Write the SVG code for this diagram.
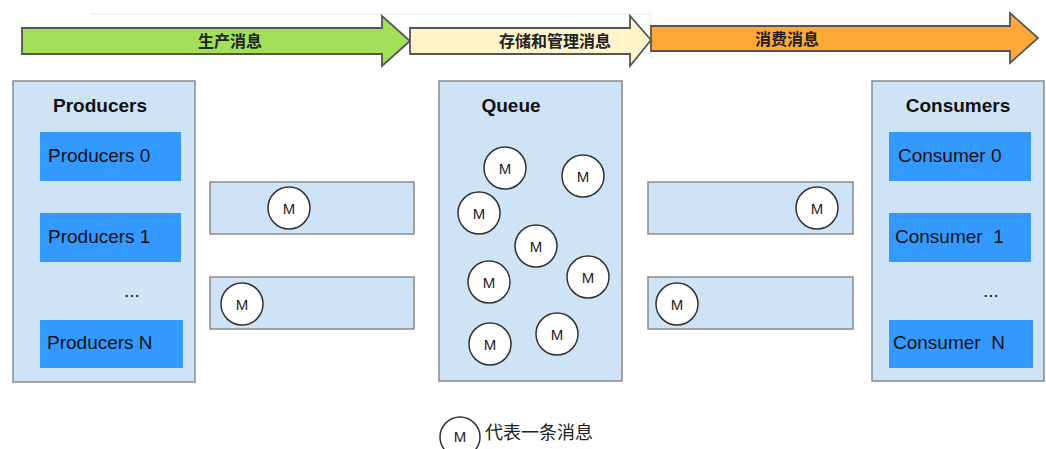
<svg xmlns="http://www.w3.org/2000/svg" width="1046" height="449" viewBox="0 0 1046 449">
<defs>
<style>
.panel{fill:#cfe3f7;stroke:#8a8a8a;stroke-width:1.5}
.chan{fill:#cfe3f7;stroke:#8a8a8a;stroke-width:1.5}
.item{fill:#3399ff}
.msg circle{fill:#fff;stroke:#333;stroke-width:1.5}
.msg text{font-family:"Liberation Sans",Arial,sans-serif;font-size:15px;fill:#222;text-anchor:middle}
.title{font-family:"Liberation Sans",Arial,sans-serif;font-size:19px;font-weight:bold;fill:#111;text-anchor:middle}
.lbl{font-family:"Liberation Sans",Arial,sans-serif;font-size:19px;fill:#111;white-space:pre}
.stage path{stroke:#555;stroke-width:1.8;stroke-linejoin:miter}
.stage text{font-family:"Liberation Sans","Noto Sans CJK SC",sans-serif;font-size:16px;font-weight:bold;fill:#222;text-anchor:middle}
.cjk{font-family:"Liberation Sans","Noto Sans CJK SC",sans-serif;font-size:18px;fill:#222}
</style>
</defs>
<rect width="1046" height="449" fill="#fff"/>
<path d="M90,14 H651 V58" fill="none" stroke="#e4e4e4" stroke-width="1"/>

<g id="stage-produce" class="stage">
<path d="M22,28 H382 V16 L410,41 L382,66 V54 H22 Z" fill="#a2e05a"/>
<text x="230" y="47">生产消息</text>
</g>
<g id="stage-store" class="stage">
<path d="M410,28 H630 V16 L651,40 L630,66 V54 H410 Z" fill="#fff4c9"/>
<text x="555" y="47">存储和管理消息</text>
</g>
<g id="stage-consume" class="stage">
<path d="M651,26 H1010 V13 L1038,38 L1010,63 V51 H651 Z" fill="#ffa836"/>
<text x="787" y="45">消费消息</text>
</g>

<g id="producers">
<rect class="panel" x="13" y="81" width="182" height="301"/>
<text class="title" x="100" y="112">Producers</text>
<rect class="item" x="40" y="132" width="141" height="49"/>
<text class="lbl" x="48" y="162">Producers 0</text>
<rect class="item" x="40" y="213" width="141" height="49"/>
<text class="lbl" x="48" y="243">Producers 1</text>
<text class="lbl" x="124" y="297">...</text>
<rect class="item" x="40" y="320" width="143" height="48"/>
<text class="lbl" x="47" y="349">Producers N</text>
</g>

<g id="channel-in-1">
<rect class="chan" x="210" y="182" width="204" height="52"/>
<g class="msg"><circle cx="289" cy="208" r="21"/><text x="289" y="213.5">M</text></g>
</g>
<g id="channel-in-2">
<rect class="chan" x="210" y="277" width="204" height="52"/>
<g class="msg"><circle cx="242" cy="304" r="21"/><text x="242" y="309.5">M</text></g>
</g>

<g id="queue">
<rect class="panel" x="439" y="81" width="183" height="300"/>
<text class="title" x="511" y="112">Queue</text>
<g class="msg"><circle cx="505" cy="168" r="21"/><text x="505" y="173.5">M</text></g>
<g class="msg"><circle cx="583" cy="176" r="21"/><text x="583" y="181.5">M</text></g>
<g class="msg"><circle cx="479" cy="213" r="21"/><text x="479" y="218.5">M</text></g>
<g class="msg"><circle cx="536" cy="246" r="21"/><text x="536" y="251.5">M</text></g>
<g class="msg"><circle cx="489" cy="282" r="21"/><text x="489" y="287.5">M</text></g>
<g class="msg"><circle cx="588" cy="277" r="21"/><text x="588" y="282.5">M</text></g>
<g class="msg"><circle cx="490" cy="344" r="21"/><text x="490" y="349.5">M</text></g>
<g class="msg"><circle cx="557" cy="334" r="21"/><text x="557" y="339.5">M</text></g>
</g>

<g id="channel-out-1">
<rect class="chan" x="648" y="182" width="205" height="52"/>
<g class="msg"><circle cx="817" cy="208" r="21"/><text x="817" y="213.5">M</text></g>
</g>
<g id="channel-out-2">
<rect class="chan" x="648" y="277" width="205" height="52"/>
<g class="msg"><circle cx="677" cy="304" r="21"/><text x="677" y="309.5">M</text></g>
</g>

<g id="consumers">
<rect class="panel" x="872" y="81" width="172" height="300"/>
<text class="title" x="958" y="112">Consumers</text>
<rect class="item" x="889" y="132" width="142" height="49"/>
<text class="lbl" x="898" y="162">Consumer 0</text>
<rect class="item" x="889" y="213" width="142" height="49"/>
<text class="lbl" x="895" y="243" xml:space="preserve">Consumer  1</text>
<text class="lbl" x="983" y="297">...</text>
<rect class="item" x="889" y="320" width="144" height="48"/>
<text class="lbl" x="893" y="349" xml:space="preserve">Consumer  N</text>
</g>

<g id="legend">
<g class="msg"><circle cx="460" cy="437" r="20"/><text x="460" y="442">M</text></g>
<text class="cjk" x="485" y="439">代表一条消息</text>
</g>

<g id="connectors"></g>
</svg>
